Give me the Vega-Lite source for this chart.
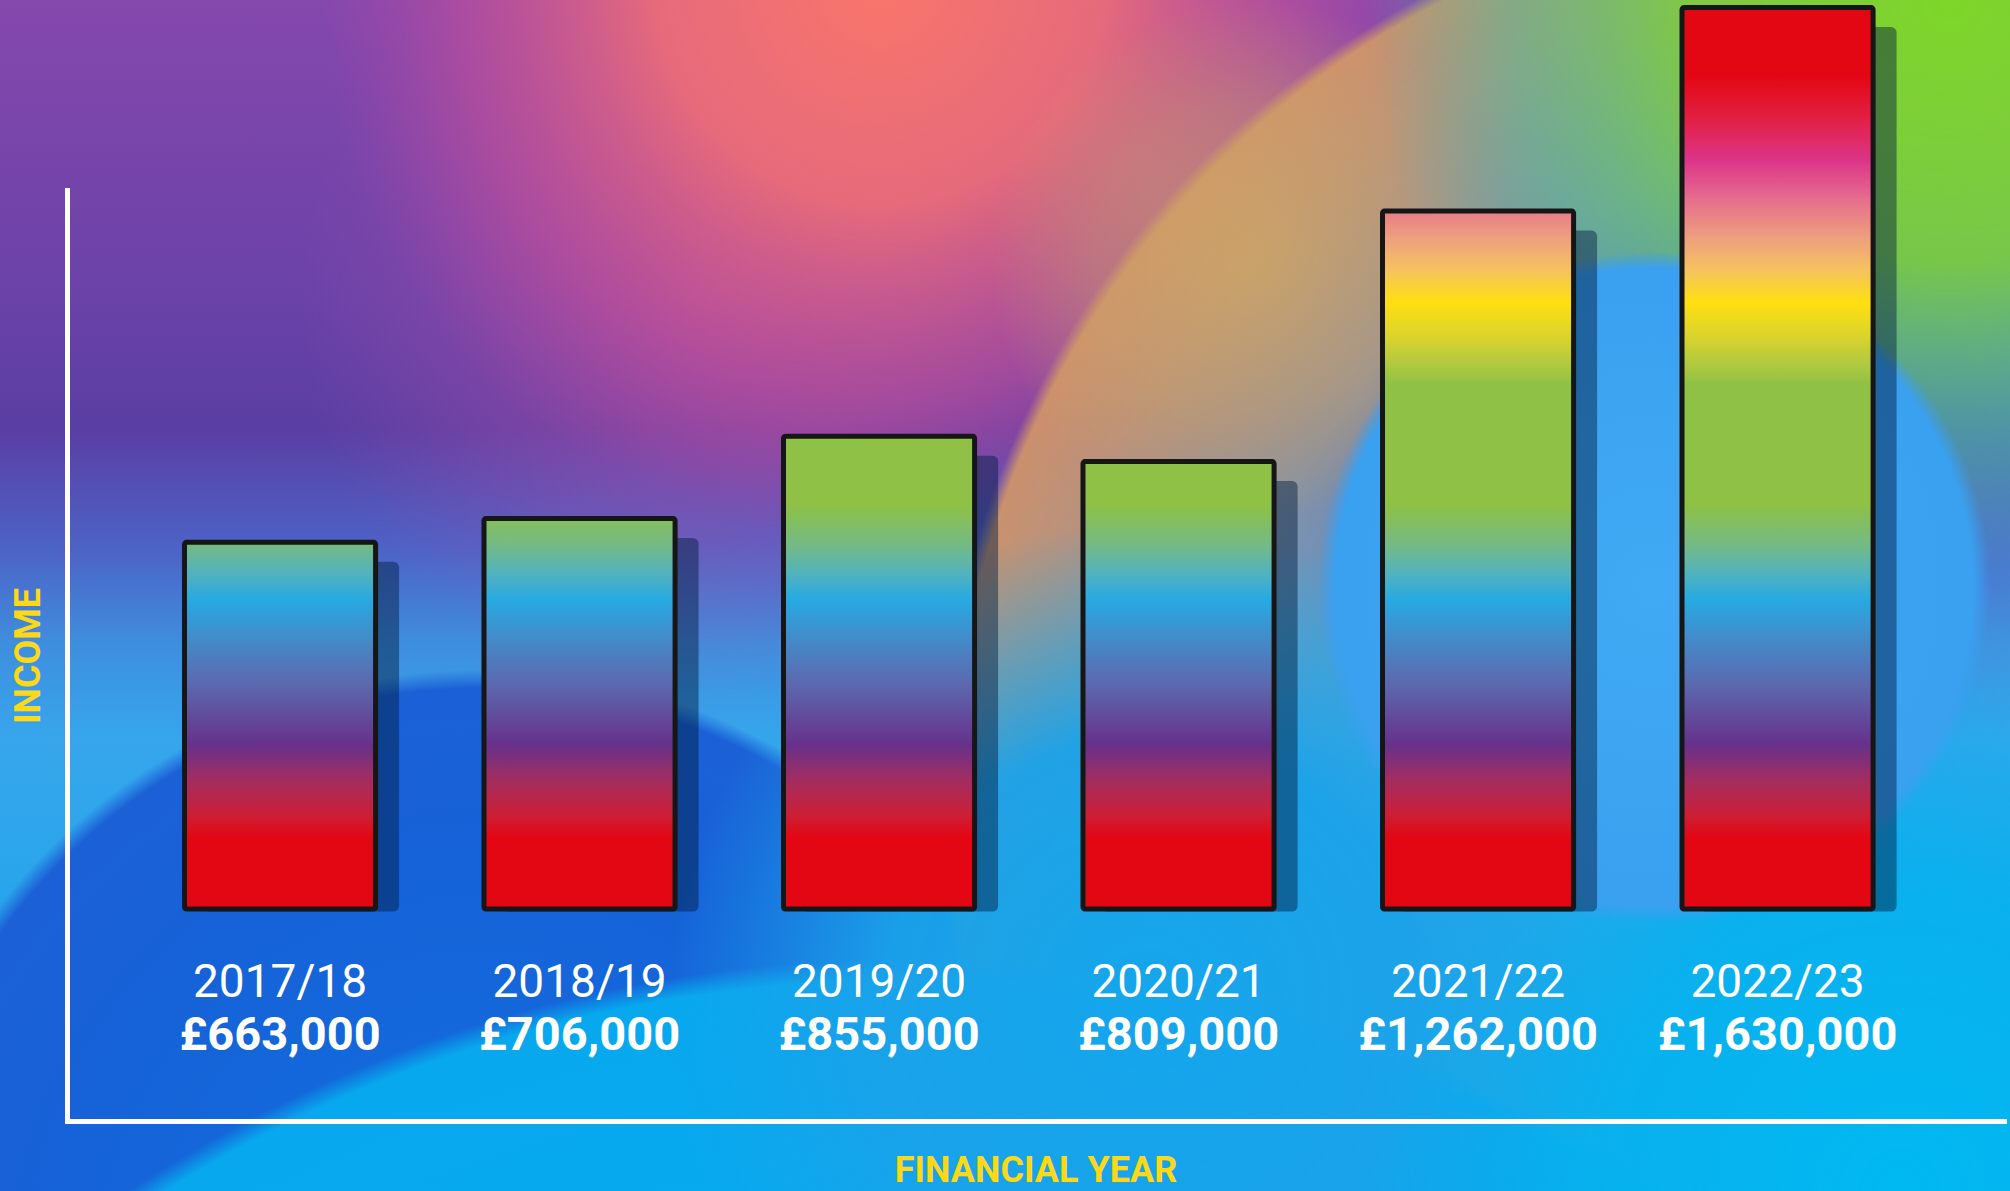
{
  "$schema": "https://vega.github.io/schema/vega-lite/v6.json",
  "width": 2010,
  "height": 1191,
  "autosize": "none",
  "padding": 0,
  "background": "#3a8fe0",
  "config": {
    "view": {"stroke": null},
    "locale": {"number": {"decimal": ".", "thousands": ",", "grouping": [3], "currency": ["£", ""]}}
  },
  "datasets": {
    "income": [
      {"year": "2017/18", "income": 663000},
      {"year": "2018/19", "income": 706000},
      {"year": "2019/20", "income": 855000},
      {"year": "2020/21", "income": 809000},
      {"year": "2021/22", "income": 1262000},
      {"year": "2022/23", "income": 1630000}
    ]
  },
  "layer": [
    {
      "data": {"values": [{"bg": 1}]},
      "mark": {"type": "rect", "fill": {"gradient": "linear", "x1": 0, "y1": 0, "x2": 0, "y2": 1, "stops": [
        {"offset": 0, "color": "#8548AD"},
        {"offset": 0.25, "color": "#6A42A8"},
        {"offset": 0.36, "color": "#5A3EA3"},
        {"offset": 0.46, "color": "#4D62C6"},
        {"offset": 0.54, "color": "#3E8EDE"},
        {"offset": 0.62, "color": "#37A6EC"},
        {"offset": 1, "color": "#0AA4EC"}
      ]}},
      "encoding": {"x": {"value": 0}, "x2": {"value": "width"}, "y": {"value": 0}, "y2": {"value": "height"}}
    },
    {
      "data": {"values": [{"bg": 1}]},
      "mark": {"type": "rect", "fill": {"gradient": "radial", "x1": 0.348, "y1": 0.353, "r1": 0, "x2": 0.348, "y2": 0.353, "r2": 0.2, "stops": [
        {"offset": 0, "color": "rgba(196,82,158,0.55)"},
        {"offset": 0.5, "color": "rgba(180,80,165,0.35)"},
        {"offset": 1, "color": "rgba(170,80,170,0)"}
      ]}},
      "encoding": {"x": {"value": 0}, "x2": {"value": "width"}, "y": {"value": 0}, "y2": {"value": "height"}}
    },
    {
      "data": {"values": [{"bg": 1}]},
      "mark": {"type": "rect", "fill": {"gradient": "radial", "x1": 0.4378, "y1": 0.1938, "r1": 0, "x2": 0.4378, "y2": 0.1938, "r2": 0.2786, "stops": [
        {"offset": 0, "color": "rgba(250,118,106,1)"},
        {"offset": 0.4, "color": "rgba(240,110,118,0.9)"},
        {"offset": 0.75, "color": "rgba(200,80,150,0.55)"},
        {"offset": 1, "color": "rgba(180,70,160,0)"}
      ]}},
      "encoding": {"x": {"value": 0}, "x2": {"value": "width"}, "y": {"value": 0}, "y2": {"value": "height"}}
    },
    {
      "data": {"values": [{"bg": 1}]},
      "mark": {"type": "rect", "fill": {"gradient": "radial", "x1": 0.239, "y1": 0.8405, "r1": 0, "x2": 0.239, "y2": 0.8405, "r2": 0.3035, "stops": [
        {"offset": 0, "color": "rgba(16,112,222,1)"},
        {"offset": 0.7, "color": "rgba(22,98,216,1)"},
        {"offset": 0.97, "color": "rgba(28,96,214,1)"},
        {"offset": 1, "color": "rgba(28,96,214,0)"}
      ]}},
      "encoding": {"x": {"value": 0}, "x2": {"value": "width"}, "y": {"value": 0}, "y2": {"value": "height"}}
    },
    {
      "data": {"values": [{"bg": 1}]},
      "mark": {"type": "rect", "fill": {"gradient": "radial", "x1": 0.92, "y1": 0.6017, "r1": 0, "x2": 0.92, "y2": 0.6017, "r2": 0.4527, "stops": [
        {"offset": 0, "color": "rgba(60,170,230,0)"},
        {"offset": 0.45, "color": "rgba(80,170,220,0.35)"},
        {"offset": 0.7, "color": "rgba(150,168,160,0.75)"},
        {"offset": 0.9, "color": "rgba(196,152,118,0.9)"},
        {"offset": 0.985, "color": "rgba(210,150,104,0.92)"},
        {"offset": 1, "color": "rgba(210,150,104,0)"}
      ]}},
      "encoding": {"x": {"value": 0}, "x2": {"value": "width"}, "y": {"value": 0}, "y2": {"value": "height"}}
    },
    {
      "data": {"values": [{"bg": 1}]},
      "mark": {"type": "rect", "fill": {"gradient": "radial", "x1": 0.448, "y1": 1.38, "r1": 0, "x2": 0.448, "y2": 1.38, "r2": 0.699, "stops": [
        {"offset": 0, "color": "rgba(0,178,240,1)"},
        {"offset": 0.985, "color": "rgba(8,168,238,1)"},
        {"offset": 1, "color": "rgba(8,168,238,0)"}
      ]}},
      "encoding": {"x": {"value": 0}, "x2": {"value": "width"}, "y": {"value": 0}, "y2": {"value": "height"}}
    },
    {
      "data": {"values": [{"bg": 1}]},
      "mark": {"type": "rect", "fill": {"gradient": "radial", "x1": 0.572, "y1": 0.7012, "r1": 0, "x2": 0.572, "y2": 0.7012, "r2": 0.2388, "stops": [
        {"offset": 0, "color": "rgba(20,166,236,1)"},
        {"offset": 0.55, "color": "rgba(26,162,234,0.95)"},
        {"offset": 1, "color": "rgba(26,162,234,0)"}
      ]}},
      "encoding": {"x": {"value": 0}, "x2": {"value": "width"}, "y": {"value": 0}, "y2": {"value": "height"}}
    },
    {
      "data": {"values": [{"bg": 1}]},
      "mark": {"type": "rect", "fill": {"gradient": "radial", "x1": 0.945, "y1": 0.796, "r1": 0, "x2": 0.945, "y2": 0.796, "r2": 0.27, "stops": [
        {"offset": 0, "color": "rgba(0,184,242,1)"},
        {"offset": 0.55, "color": "rgba(6,178,238,0.9)"},
        {"offset": 1, "color": "rgba(10,172,236,0)"}
      ]}},
      "encoding": {"x": {"value": 0}, "x2": {"value": "width"}, "y": {"value": 0}, "y2": {"value": "height"}}
    },
    {
      "data": {"values": [{"bg": 1}]},
      "mark": {"type": "rect", "fill": {"gradient": "radial", "x1": 0.622, "y1": 0.333, "r1": 0, "x2": 0.622, "y2": 0.333, "r2": 0.13, "stops": [
        {"offset": 0, "color": "rgba(208,170,96,0.7)"},
        {"offset": 0.6, "color": "rgba(205,165,100,0.4)"},
        {"offset": 1, "color": "rgba(205,165,100,0)"}
      ]}},
      "encoding": {"x": {"value": 0}, "x2": {"value": "width"}, "y": {"value": 0}, "y2": {"value": "height"}}
    },
    {
      "data": {"values": [{"bg": 1}]},
      "mark": {"type": "rect", "fill": {"gradient": "radial", "x1": 0.97, "y1": 0.2037, "r1": 0, "x2": 0.97, "y2": 0.2037, "r2": 0.29, "stops": [
        {"offset": 0, "color": "rgba(126,214,40,1)"},
        {"offset": 0.45, "color": "rgba(120,208,60,0.88)"},
        {"offset": 0.75, "color": "rgba(70,195,150,0.5)"},
        {"offset": 1, "color": "rgba(60,190,170,0)"}
      ]}},
      "encoding": {"x": {"value": 0}, "x2": {"value": "width"}, "y": {"value": 0}, "y2": {"value": "height"}}
    },
    {
      "data": {"values": [{"bg": 1}]},
      "mark": {"type": "rect", "fill": {"gradient": "radial", "x1": 0.823, "y1": 0.496, "r1": 0, "x2": 0.823, "y2": 0.496, "r2": 0.1672, "stops": [
        {"offset": 0, "color": "rgba(64,170,244,1)"},
        {"offset": 0.95, "color": "rgba(58,160,240,1)"},
        {"offset": 1, "color": "rgba(58,160,240,0)"}
      ]}},
      "encoding": {"x": {"value": 0}, "x2": {"value": "width"}, "y": {"value": 0}, "y2": {"value": "height"}}
    },
    {
      "data": {"name": "income"},
      "mark": {"type": "bar", "fill": "#001a3d", "stroke": "#001a3d", "strokeWidth": 5, "opacity": 0.45, "xOffset": 21, "yOffset": 22, "cornerRadius": 3},
      "encoding": {
        "x": {"field": "year", "type": "nominal", "title": "FINANCIAL YEAR"},
        "y": {"field": "income", "type": "quantitative", "title": "INCOME"},
        "y2": {"datum": 0}
      }
    },
    {
      "data": {"name": "income"},
      "mark": {"type": "bar", "stroke": "#161616", "strokeWidth": 5, "cornerRadius": 2},
      "encoding": {
        "x": {
          "field": "year", "type": "nominal", "title": "FINANCIAL YEAR",
          "scale": {"range": [67, 2004], "paddingInner": 0.362, "paddingOuter": 0.4147, "align": 0.473},
          "axis": {"orient": "bottom", "offset": -70, "zindex": 1, "domain": true, "domainColor": "#ffffff", "domainWidth": 5, "domainCap": "square", "ticks": false, "labels": false, "grid": false,
                   "titleColor": "#FDD816", "titleFont": "Roboto", "titleFontSize": 36, "titleFontWeight": "bold", "titleBaseline": "alphabetic", "titlePadding": 60}
        },
        "y": {
          "field": "income", "type": "quantitative", "title": "INCOME",
          "scale": {"domain": [-383363, 1300181], "range": [1121, 190], "nice": false, "zero": false},
          "axis": {"orient": "left", "offset": -67, "zindex": 1, "domain": true, "domainColor": "#ffffff", "domainWidth": 5, "domainCap": "square", "ticks": false, "labels": false, "grid": false,
                   "titleColor": "#FDD816", "titleFont": "Roboto", "titleFontSize": 36, "titleFontWeight": "bold", "titleBaseline": "alphabetic", "titlePadding": 28}
        },
        "y2": {"datum": 0},
        "fill": {
          "condition": [
            {"test": "datum.year === '2017/18'", "value": {"gradient": "linear", "x1": 0, "y1": 0, "x2": 0, "y2": 1, "stops": [
              {"offset": 0, "color": "#76BA81"}, {"offset": 0.007, "color": "#74BA85"}, {"offset": 0.089, "color": "#50B2C0"}, {"offset": 0.157, "color": "#27A9E2"},
              {"offset": 0.266, "color": "#448AC9"}, {"offset": 0.389, "color": "#5C68AE"}, {"offset": 0.553, "color": "#67318A"}, {"offset": 0.648, "color": "#A32D60"},
              {"offset": 0.744, "color": "#CC1F36"}, {"offset": 0.806, "color": "#E30613"}, {"offset": 1, "color": "#E30613"}]}},
            {"test": "datum.year === '2018/19'", "value": {"gradient": "linear", "x1": 0, "y1": 0, "x2": 0, "y2": 1, "stops": [
              {"offset": 0, "color": "#85BF5B"}, {"offset": 0.068, "color": "#74BA85"}, {"offset": 0.144, "color": "#50B2C0"}, {"offset": 0.209, "color": "#27A9E2"},
              {"offset": 0.311, "color": "#448AC9"}, {"offset": 0.426, "color": "#5C68AE"}, {"offset": 0.58, "color": "#67318A"}, {"offset": 0.67, "color": "#A32D60"},
              {"offset": 0.759, "color": "#CC1F36"}, {"offset": 0.818, "color": "#E30613"}, {"offset": 1, "color": "#E30613"}]}},
            {"test": "datum.year === '2019/20'", "value": {"gradient": "linear", "x1": 0, "y1": 0, "x2": 0, "y2": 1, "stops": [
              {"offset": 0, "color": "#8EC145"}, {"offset": 0.146, "color": "#8EC145"}, {"offset": 0.23, "color": "#74BA85"}, {"offset": 0.294, "color": "#50B2C0"},
              {"offset": 0.346, "color": "#27A9E2"}, {"offset": 0.431, "color": "#448AC9"}, {"offset": 0.526, "color": "#5C68AE"}, {"offset": 0.653, "color": "#67318A"},
              {"offset": 0.727, "color": "#A32D60"}, {"offset": 0.801, "color": "#CC1F36"}, {"offset": 0.85, "color": "#E30613"}, {"offset": 1, "color": "#E30613"}]}},
            {"test": "datum.year === '2020/21'", "value": {"gradient": "linear", "x1": 0, "y1": 0, "x2": 0, "y2": 1, "stops": [
              {"offset": 0, "color": "#8EC145"}, {"offset": 0.097, "color": "#8EC145"}, {"offset": 0.186, "color": "#74BA85"}, {"offset": 0.253, "color": "#50B2C0"},
              {"offset": 0.309, "color": "#27A9E2"}, {"offset": 0.399, "color": "#448AC9"}, {"offset": 0.499, "color": "#5C68AE"}, {"offset": 0.633, "color": "#67318A"},
              {"offset": 0.712, "color": "#A32D60"}, {"offset": 0.79, "color": "#CC1F36"}, {"offset": 0.841, "color": "#E30613"}, {"offset": 1, "color": "#E30613"}]}},
            {"test": "datum.year === '2021/22'", "value": {"gradient": "linear", "x1": 0, "y1": 0, "x2": 0, "y2": 1, "stops": [
              {"offset": 0, "color": "#E87C89"}, {"offset": 0.041, "color": "#EEA27C"}, {"offset": 0.087, "color": "#F6C45C"}, {"offset": 0.13, "color": "#FFDF10"},
              {"offset": 0.178, "color": "#DCD42C"}, {"offset": 0.216, "color": "#B4CA3E"}, {"offset": 0.249, "color": "#8EC145"}, {"offset": 0.421, "color": "#8EC145"},
              {"offset": 0.478, "color": "#74BA85"}, {"offset": 0.521, "color": "#50B2C0"}, {"offset": 0.557, "color": "#27A9E2"}, {"offset": 0.615, "color": "#448AC9"},
              {"offset": 0.679, "color": "#5C68AE"}, {"offset": 0.765, "color": "#67318A"}, {"offset": 0.815, "color": "#A32D60"}, {"offset": 0.865, "color": "#CC1F36"},
              {"offset": 0.898, "color": "#E30613"}, {"offset": 1, "color": "#E30613"}]}},
            {"test": "datum.year === '2022/23'", "value": {"gradient": "linear", "x1": 0, "y1": 0, "x2": 0, "y2": 1, "stops": [
              {"offset": 0, "color": "#E30613"}, {"offset": 0.075, "color": "#E30613"}, {"offset": 0.125, "color": "#E22046"}, {"offset": 0.169, "color": "#DC3489"},
              {"offset": 0.213, "color": "#E66E8E"}, {"offset": 0.258, "color": "#EEA27C"}, {"offset": 0.293, "color": "#F6C45C"}, {"offset": 0.327, "color": "#FFDF10"},
              {"offset": 0.363, "color": "#DCD42C"}, {"offset": 0.393, "color": "#B4CA3E"}, {"offset": 0.419, "color": "#8EC145"}, {"offset": 0.552, "color": "#8EC145"},
              {"offset": 0.596, "color": "#74BA85"}, {"offset": 0.629, "color": "#50B2C0"}, {"offset": 0.657, "color": "#27A9E2"}, {"offset": 0.702, "color": "#448AC9"},
              {"offset": 0.752, "color": "#5C68AE"}, {"offset": 0.818, "color": "#67318A"}, {"offset": 0.857, "color": "#A32D60"}, {"offset": 0.896, "color": "#CC1F36"},
              {"offset": 0.921, "color": "#E30613"}, {"offset": 1, "color": "#E30613"}]}}
          ],
          "value": "#E30613"
        }
      }
    },
    {
      "data": {"name": "income"},
      "mark": {"type": "text", "font": "Roboto", "fontSize": 46, "fill": "#ffffff", "baseline": "alphabetic", "align": "center", "dy": 88},
      "encoding": {
        "x": {"field": "year", "type": "nominal", "title": "FINANCIAL YEAR"},
        "y": {"datum": 0, "type": "quantitative", "title": "INCOME"},
        "text": {"field": "year"}
      }
    },
    {
      "data": {"name": "income"},
      "mark": {"type": "text", "font": "Roboto", "fontSize": 47, "fontWeight": "bold", "fill": "#ffffff", "baseline": "alphabetic", "align": "center", "dy": 141},
      "encoding": {
        "x": {"field": "year", "type": "nominal", "title": "FINANCIAL YEAR"},
        "y": {"datum": 0, "type": "quantitative", "title": "INCOME"},
        "text": {"field": "income", "type": "quantitative", "format": "$,.0f"}
      }
    }
  ]
}
